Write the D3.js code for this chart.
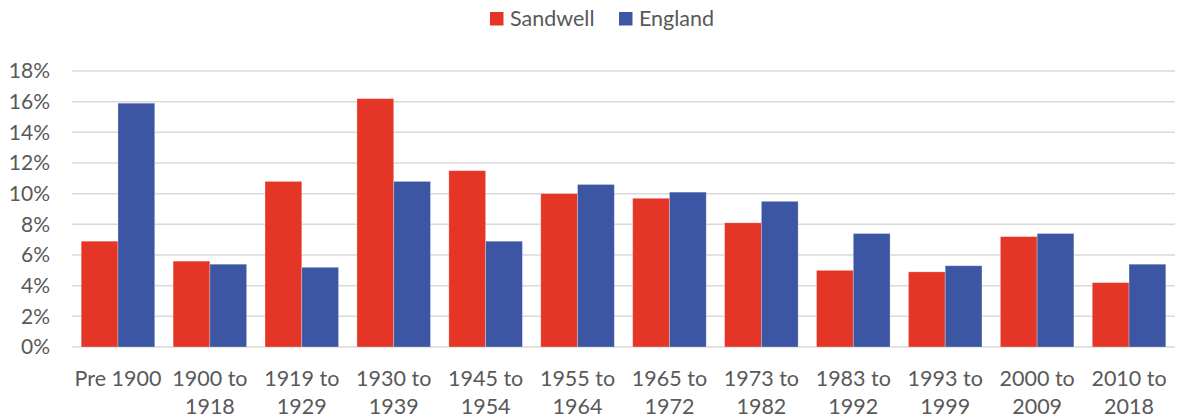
<!DOCTYPE html>
<html lang="en">
  <head>
    <title>Age of dwellings</title>
    <script src="https://d3js.org/d3.v7.min.js"></script>
    <style>
      body { margin: 0; background: #fff; }
      text { font-family: Lato, "Liberation Sans", sans-serif; fill: #595959; }
      .grid line { stroke: #d9d9d9; stroke-width: 1.5; }
    </style>
  </head>
  <body>
    <svg width="1177" height="419"></svg>
    <script>
      // build periods, two series (share of dwellings)
      var categories = [["Pre 1900"], ["1900 to", "1918"], ["1919 to", "1929"], ["1930 to", "1939"],
                        ["1945 to", "1954"], ["1955 to", "1964"], ["1965 to", "1972"], ["1973 to", "1982"],
                        ["1983 to", "1992"], ["1993 to", "1999"], ["2000 to", "2009"], ["2010 to", "2018"]];
      var sandwell = [6.9, 5.6, 10.8, 16.2, 11.5, 10.0, 9.7, 8.1, 5.0, 4.9, 7.2, 4.2];
      var england  = [15.9, 5.4, 5.2, 10.8, 6.9, 10.6, 10.1, 9.5, 7.4, 5.3, 7.4, 5.4];
      var seriesNames = ["Sandwell", "England"];
      var colours = ["#e43526", "#3c56a4"];
      var yTicks = [0, 2, 4, 6, 8, 10, 12, 14, 16, 18];

      var svg = d3.select("svg");
      var plotLeft = 72, plotRight = 1175, plotTop = 71, plotBottom = 347;

      var x = d3.scaleBand().domain(d3.range(categories.length))
                .range([plotLeft, plotRight]).paddingInner(0.2).paddingOuter(0.1);
      var x1 = d3.scaleBand().domain([0, 1]).range([0, x.bandwidth()]);
      var y = d3.scaleLinear().domain([0, 18]).range([plotBottom, plotTop]);

      // gridlines
      svg.append("g").attr("class", "grid").selectAll("line")
         .data(yTicks).enter().append("line")
         .attr("x1", plotLeft).attr("x2", plotRight)
         .attr("y1", function(d){ return y(d); })
         .attr("y2", function(d){ return y(d); });

      // y labels
      svg.append("g").selectAll("text").data(yTicks).enter().append("text")
         .attr("x", 50).attr("y", function(d){ return y(d); })
         .attr("dy", "0.35em").attr("text-anchor", "end")
         .style("font-size", "21px")
         .text(function(d){ return d + "%"; });

      // bars
      var data = [sandwell, england];
      data.forEach(function(vals, s) {
        svg.append("g").selectAll("rect").data(vals).enter().append("rect")
           .attr("x", function(d, i){ return x(i) + x1(s); })
           .attr("width", x1.bandwidth())
           .attr("y", function(d){ return y(d); })
           .attr("height", function(d){ return y(0) - y(d); })
           .attr("fill", colours[s])
           .attr("stroke", "#ffffff").attr("stroke-opacity", 0.35).attr("stroke-width", 0.8);
      });

      // x labels
      var xl = svg.append("g").selectAll("text").data(categories).enter().append("text")
         .attr("text-anchor", "middle")
         .style("font-size", "21.5px")
         .attr("transform", function(d, i){ return "translate(" + (x(i) + x.bandwidth() / 2) + ",0)"; });
      xl.selectAll("tspan").data(function(d){ return d; }).enter().append("tspan")
         .attr("x", 0)
         .attr("y", function(d, j){ return 386 + j * 28; })
         .text(function(d){ return d; });

      // legend
      var legendX = [490, 619];
      seriesNames.forEach(function(name, s) {
        svg.append("rect").attr("x", legendX[s]).attr("y", 12).attr("width", 13.5).attr("height", 13.5)
           .attr("fill", colours[s]);
        svg.append("text").attr("x", legendX[s] + 20).attr("y", 26)
           .style("font-size", "21.5px").text(name);
      });
    </script>
  </body>
</html>
